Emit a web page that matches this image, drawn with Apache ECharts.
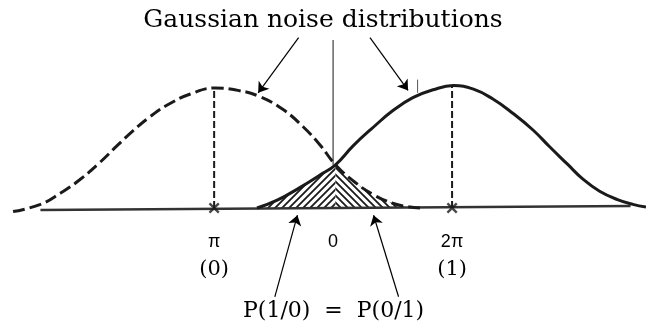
<!DOCTYPE html>
<html>
<head>
<meta charset="utf-8">
<script src="https://cdn.jsdelivr.net/npm/echarts@6/dist/echarts.min.js"></script>
<style>
  html, body { margin: 0; padding: 0; background: #fff; }
  #chart { width: 646px; height: 331px; }
</style>
</head>
<body>
<div id="chart"></div>
<script>
'use strict';

// noise density for symbol 0 (dashed, centred on pi)
var curve0 = [
    [-2.69, -0.03], [-2.46, 0.03], [-2.29, 0.125], [-2.13, 0.235], [-1.96, 0.38],
    [-1.82, 0.515], [-1.68, 0.645], [-1.54, 0.76], [-1.39, 0.86], [-1.20, 0.95],
    [-0.99, 1.00], [-0.80, 0.98], [-0.62, 0.93], [-0.42, 0.82], [-0.25, 0.675],
    [-0.11, 0.525], [0.02, 0.36], [0.17, 0.225], [0.34, 0.11], [0.50, 0.04],
    [0.62, 0.012], [0.73, 0.00]
];

// noise density for symbol 1 (solid, centred on 2pi)
var curve1 = [
    [-0.64, 0.00], [-0.47, 0.065], [-0.28, 0.17], [-0.11, 0.275], [0.02, 0.36],
    [0.17, 0.52], [0.34, 0.675], [0.50, 0.81], [0.67, 0.92], [0.84, 0.985],
    [1.01, 1.02], [1.18, 0.99], [1.34, 0.91], [1.51, 0.79], [1.68, 0.65],
    [1.82, 0.51], [1.97, 0.365], [2.10, 0.24], [2.24, 0.14], [2.39, 0.07],
    [2.52, 0.03], [2.63, 0.008]
];

var crossX = 0.02;
var baseLine = [[-2.46, -0.017], [2.50, 0.017]];
var threshold = [[0, 0.36], [0, 1.40]];
var means = [-1, 1];
var peaks = [1.00, 1.02];

var tickValues = [-1, 0, 1];
var tickNames = ['π', '0', '2π'];
var tickBits = ['(0)', '', '(1)'];

var titleText = 'Gaussian noise distributions';
var errorText = 'P(1/0)  =  P(0/1)';

// arrows: [from, to]
var topArrows = [
    [[-0.29, 1.42], [-0.63, 0.96]],
    [[0.31, 1.42], [0.63, 0.98]]
];
var bottomArrows = [
    [[-0.49, -0.74], [-0.30, -0.06]],
    [[0.55, -0.74], [0.34, -0.06]]
];
var stray = [[0.71, 1.07], [0.71, 0.96]];

var INK = '#1a1a1a';

function hatch(dir) {
    var n = 7;
    var c = document.createElement('canvas');
    c.width = n;
    c.height = n;
    var ctx = c.getContext('2d');
    ctx.strokeStyle = INK;
    ctx.lineWidth = 1.8;
    ctx.beginPath();
    if (dir > 0) {
        ctx.moveTo(-1, n + 1); ctx.lineTo(n + 1, -1);
        ctx.moveTo(-1, 1); ctx.lineTo(1, -1);
        ctx.moveTo(n - 1, n + 1); ctx.lineTo(n + 1, n - 1);
    }
    else {
        ctx.moveTo(-1, -1); ctx.lineTo(n + 1, n + 1);
        ctx.moveTo(n - 1, -1); ctx.lineTo(n + 1, 1);
        ctx.moveTo(-1, n - 1); ctx.lineTo(1, n + 1);
    }
    ctx.stroke();
    return c;
}

var leftTail = curve1.filter(function(p) { return p[0] <= crossX; });
var rightTail = curve0.filter(function(p) { return p[0] >= crossX; });

function arrowData(list) {
    return list.map(function(a) { return { coords: a }; });
}

var SMOOTH = 0.45;

var chart = echarts.init(document.getElementById('chart'));

chart.setOption({
    animation: false,
    title: [{
        text: titleText,
        left: 'center',
        top: 8,
        padding: 0,
        textStyle: { fontFamily: 'DejaVu Serif', fontSize: 25, fontWeight: 'normal', color: '#000' }
    }, {
        text: errorText,
        left: 243,
        top: 300,
        padding: 0,
        textStyle: { fontFamily: 'DejaVu Serif', fontSize: 22, fontWeight: 'normal', color: '#000' }
    }],
    grid: { left: 0, right: 0, top: 28, bottom: 123 },
    xAxis: {
        type: 'value',
        min: -2.8,
        max: 2.63,
        axisLine: { show: false },
        axisTick: { show: false },
        splitLine: { show: false },
        axisLabel: {
            customValues: tickValues,
            margin: 22,
            formatter: function(v) {
                var i = tickValues.indexOf(Math.round(v));
                if (i < 0) return '';
                var s = '{a|' + tickNames[i] + '}';
                if (tickBits[i]) s += '\n{b|' + tickBits[i] + '}';
                return s;
            },
            rich: {
                a: { fontFamily: 'Liberation Sans', fontSize: 18, lineHeight: 24, color: '#000' },
                b: { fontFamily: 'DejaVu Serif', fontSize: 21, lineHeight: 32, color: '#000' }
            }
        }
    },
    yAxis: { type: 'value', min: 0, max: 1.5, show: false },
    series: [{
        type: 'line',
        data: leftTail,
        smooth: SMOOTH,
        showSymbol: false,
        clip: false,
        lineStyle: { width: 0 },
        areaStyle: { color: { image: hatch(1), repeat: 'repeat' }, opacity: 1 },
        z: 1
    }, {
        type: 'line',
        data: rightTail,
        smooth: SMOOTH,
        showSymbol: false,
        clip: false,
        lineStyle: { width: 0 },
        areaStyle: { color: { image: hatch(-1), repeat: 'repeat' }, opacity: 1 },
        z: 1
    }, {
        type: 'line',
        data: baseLine,
        showSymbol: false,
        clip: false,
        lineStyle: { color: '#333', width: 2.5 },
        z: 2
    }, {
        type: 'line',
        data: threshold,
        showSymbol: false,
        clip: false,
        lineStyle: { color: '#666', width: 1.5 },
        z: 2
    }, {
        type: 'line',
        data: [[means[0], 0], [means[0], peaks[0]]],
        showSymbol: false,
        lineStyle: { color: INK, width: 2, type: [7, 3] },
        z: 2
    }, {
        type: 'line',
        data: [[means[1], 0], [means[1], peaks[1]]],
        showSymbol: false,
        lineStyle: { color: INK, width: 2, type: [7, 3] },
        z: 2
    }, {
        type: 'line',
        data: curve0,
        smooth: SMOOTH,
        showSymbol: false,
        clip: false,
        lineStyle: { color: INK, width: 3, type: [12, 5] },
        z: 3
    }, {
        type: 'line',
        data: curve1,
        smooth: SMOOTH,
        showSymbol: false,
        clip: false,
        lineStyle: { color: INK, width: 3 },
        z: 3
    }, {
        type: 'scatter',
        data: [[means[0], 0], [means[1], 0]],
        symbol: 'path://M0,1.5L1.5,0L5,3.5L8.5,0L10,1.5L6.5,5L10,8.5L8.5,10L5,6.5L1.5,10L0,8.5L3.5,5Z',
        symbolSize: 11,
        itemStyle: { color: INK },
        z: 4
    }, {
        type: 'lines',
        coordinateSystem: 'cartesian2d',
        data: arrowData(topArrows.concat(bottomArrows)),
        symbol: ['none', 'arrow'],
        symbolSize: [0, 10],
        clip: false,
        lineStyle: { color: '#000', width: 1.2, opacity: 1, curveness: 0 },
        z: 5
    }, {
        type: 'line',
        data: stray,
        showSymbol: false,
        clip: false,
        lineStyle: { color: '#555', width: 1 },
        z: 5
    }]
});
</script>
</body>
</html>
